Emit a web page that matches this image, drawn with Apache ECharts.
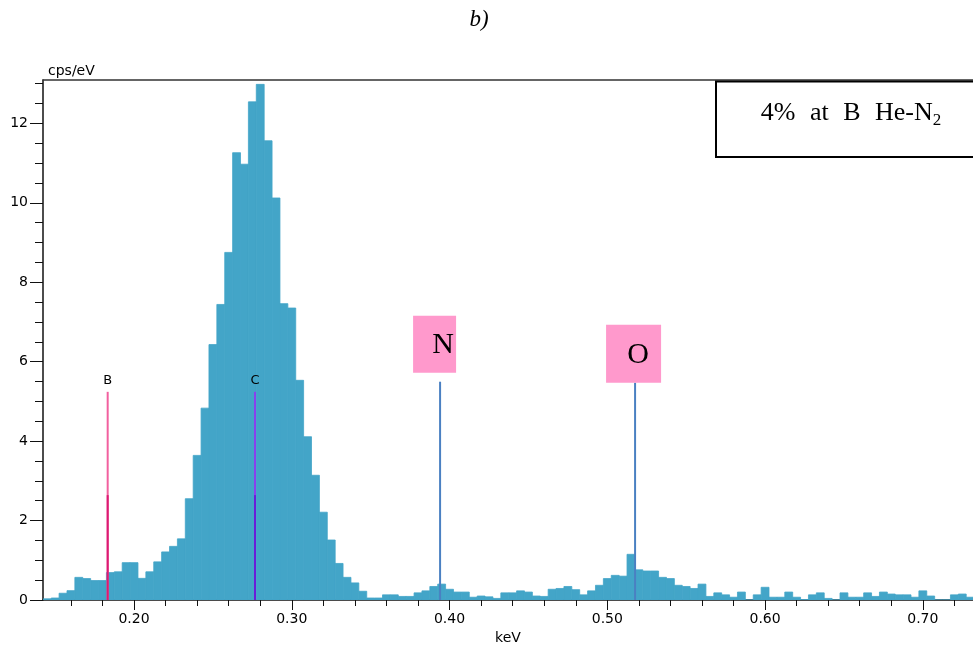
<!DOCTYPE html>
<html><head><meta charset="utf-8">
<script src="https://cdn.jsdelivr.net/npm/echarts@6/dist/echarts.min.js"></script>
<style>html,body{margin:0;padding:0;background:#fff}#c{width:973px;height:650px}</style>
</head><body><div id="c"></div>
<script>
// Bin centres (keV) and spectrum values (cps/eV)
const energies = [
0.145,0.150,0.155,0.160,0.165,0.170,0.175,0.180,0.185,0.190,
0.195,0.200,0.205,0.210,0.215,0.220,0.225,0.230,0.235,0.240,
0.245,0.250,0.255,0.260,0.265,0.270,0.275,0.280,0.285,0.290,
0.295,0.300,0.305,0.310,0.315,0.320,0.325,0.330,0.335,0.340,
0.345,0.350,0.355,0.360,0.365,0.370,0.375,0.380,0.385,0.390,
0.395,0.400,0.405,0.410,0.415,0.420,0.425,0.430,0.435,0.440,
0.445,0.450,0.455,0.460,0.465,0.470,0.475,0.480,0.485,0.490,
0.495,0.500,0.505,0.510,0.515,0.520,0.525,0.530,0.535,0.540,
0.545,0.550,0.555,0.560,0.565,0.570,0.575,0.580,0.585,0.590,
0.595,0.600,0.605,0.610,0.615,0.620,0.625,0.630,0.635,0.640,
0.645,0.650,0.655,0.660,0.665,0.670,0.675,0.680,0.685,0.690,
0.695,0.700,0.705,0.710,0.715,0.720,0.725,0.730];
const counts = [
0.03,0.05,0.17,0.235,0.57,0.54,0.49,0.49,0.69,0.71,
0.94,0.94,0.545,0.71,0.96,1.21,1.35,1.54,2.55,3.64,
4.83,6.43,7.44,8.75,11.26,10.97,12.54,12.98,11.56,10.12,
7.46,7.35,5.53,4.11,3.14,2.21,1.51,0.92,0.57,0.43,
0.22,0.05,0.05,0.13,0.13,0.09,0.09,0.18,0.23,0.34,
0.40,0.27,0.20,0.20,0.07,0.10,0.08,0.04,0.18,0.18,
0.23,0.20,0.10,0.09,0.27,0.29,0.34,0.26,0.13,0.23,
0.37,0.54,0.62,0.60,1.15,0.76,0.73,0.73,0.57,0.54,
0.37,0.34,0.29,0.40,0.09,0.18,0.13,0.07,0.20,0.00,
0.13,0.32,0.07,0.07,0.20,0.07,0.01,0.13,0.18,0.04,
0.00,0.18,0.07,0.07,0.18,0.09,0.20,0.15,0.13,0.13,
0.07,0.23,0.10,0.00,0.00,0.13,0.15,0.07];

// Element marker lines
const elementNames = ['B','C','N','O'];
const elementEnergies = [0.1833,0.2767,0.3940,0.5176];
const elementHeights = [5.24,5.24,5.495,5.47];

// Axis ticks / labels
const xMajorTicks = [0.20,0.30,0.40,0.50,0.60,0.70];
const xMinorTicks = [0.16,0.18,0.22,0.24,0.26,0.28,0.32,0.34,0.36,0.38,0.42,0.44,0.46,0.48,0.52,0.54,0.56,0.58,0.62,0.64,0.66,0.68,0.72];
const yMajorTicks = [0,2,4,6,8,10,12];
const yMinorTicks = [0.5,1,1.5,2.5,3,3.5,4.5,5,5.5,6.5,7,7.5,8.5,9,9.5,10.5,11,11.5,12.5,13];

const xMin = 0.1423, xMax = 0.7318, yMin = 0, yMax = 13.09;
const binHalf = 0.0025;

const elementStyles = [
  {color:'#f2609f', dark:'#dc1a72', darkTo:2.64},
  {color:'#8a40ee', dark:'#6a1cd8', darkTo:2.64},
  {color:'#4a80c2', box:{x:-27,y:-66,w:43,h:57,tx:3,ty:-37}},
  {color:'#4a80c2', box:{x:-29,y:-58,w:55,h:58,tx:3,ty:-28}}
];

const chart = echarts.init(document.getElementById('c'));
const FONT = 'DejaVu Sans';
const BAR = '#43a5c8';
chart.setOption({
  animation:false,
  backgroundColor:'#ffffff',
  grid:{left:43,right:0,top:80,bottom:50,containLabel:false},
  xAxis:[
    {type:'value',min:xMin,max:xMax,position:'bottom',
     axisLine:{show:true,onZero:false,lineStyle:{color:'#111',width:1.5}},
     axisTick:{show:true,customValues:xMajorTicks,length:10,lineStyle:{color:'#111'}},
     axisLabel:{customValues:xMajorTicks,formatter:v=>v.toFixed(2),color:'#000',fontSize:14,fontFamily:FONT,margin:12},
     splitLine:{show:false},
     name:'keV',nameLocation:'middle',nameGap:31,nameTextStyle:{color:'#000',fontSize:14,fontFamily:FONT}},
    {type:'value',min:xMin,max:xMax,position:'bottom',
     axisLine:{show:false,onZero:false},
     axisTick:{show:true,customValues:xMinorTicks,length:6,lineStyle:{color:'#111'}},
     axisLabel:{show:false},splitLine:{show:false}},
    {type:'value',min:xMin,max:xMax,position:'top',
     axisLine:{show:true,onZero:false,lineStyle:{color:'#333',width:1.5}},
     axisTick:{show:false},axisLabel:{show:false},splitLine:{show:false}}
  ],
  yAxis:[
    {type:'value',min:yMin,max:yMax,position:'left',
     axisLine:{show:true,onZero:false,lineStyle:{color:'#111',width:1.5}},
     axisTick:{show:true,customValues:yMajorTicks,length:13,lineStyle:{color:'#111'}},
     axisLabel:{customValues:yMajorTicks,color:'#000',fontSize:14,fontFamily:FONT,margin:15},
     splitLine:{show:false}},
    {type:'value',min:yMin,max:yMax,position:'left',
     axisLine:{show:false,onZero:false},
     axisTick:{show:true,customValues:yMinorTicks,length:8,lineStyle:{color:'#111'}},
     axisLabel:{show:false},splitLine:{show:false}}
  ],
  series:[
    {type:'custom',xAxisIndex:0,yAxisIndex:0,clip:true,
     data:energies.map((e,i)=>[e,counts[i]]),
     renderItem:function(params,api){
       const x=api.value(0), y=api.value(1);
       const p1=api.coord([x-binHalf,y]);
       const p2=api.coord([x+binHalf,0]);
       return {type:'rect',shape:{x:p1[0],y:p1[1],width:p2[0]-p1[0],height:p2[1]-p1[1]},
               style:{fill:BAR,stroke:BAR,lineWidth:0.8}};
     }},
    {type:'custom',xAxisIndex:0,yAxisIndex:0,clip:false,z:5,
     data:elementEnergies.map((e,i)=>[e,elementHeights[i]]),
     renderItem:function(params,api){
       const i=params.dataIndex, st=elementStyles[i];
       const x=api.value(0), h=api.value(1);
       const top=api.coord([x,h]), bot=api.coord([x,0]);
       const ch=[{type:'line',shape:{x1:top[0],y1:top[1],x2:bot[0],y2:bot[1]},style:{stroke:st.color,lineWidth:2}}];
       if(st.dark){
         const mid=api.coord([x,st.darkTo]);
         ch.push({type:'line',shape:{x1:mid[0],y1:mid[1],x2:bot[0],y2:bot[1]},style:{stroke:st.dark,lineWidth:2}});
         ch.push({type:'text',style:{text:elementNames[i],x:top[0],y:top[1]-11,fill:'#000',fontSize:13,fontFamily:FONT,align:'center',verticalAlign:'middle'}});
       }
       if(st.box){
         const b=st.box;
         ch.push({type:'rect',shape:{x:top[0]+b.x,y:top[1]+b.y,width:b.w,height:b.h},style:{fill:'#ff99cc'}});
         ch.push({type:'text',style:{text:elementNames[i],x:top[0]+b.tx,y:top[1]+b.ty,fill:'#000',fontSize:30,fontFamily:'Liberation Serif',align:'center',verticalAlign:'middle'}});
       }
       return {type:'group',children:ch};
     }}
  ],
  graphic:[
    {type:'text',left:48,top:64,style:{text:'cps/eV',fill:'#000',fontSize:14,fontFamily:FONT}},
    {type:'text',x:479,y:20,style:{text:'b)',fill:'#000',fontSize:23,fontStyle:'italic',fontFamily:'Liberation Serif',align:'center',verticalAlign:'middle'}},
    {type:'rect',shape:{x:716,y:81.5,width:270,height:75.5},style:{fill:'#fff',stroke:'#000',lineWidth:2},z:10},
    {type:'text',x:849,y:113,z:11,style:{text:'{n|4%} {n|at} {n|B} {m|He-N}{s|2}',fill:'#000',fontSize:26,fontFamily:'Liberation Serif',align:'center',verticalAlign:'middle',
      rich:{n:{fontSize:26,fontFamily:'Liberation Serif',padding:[0,4,0,4]},
            m:{fontSize:26,fontFamily:'Liberation Serif',padding:[0,0,0,4]},
            s:{fontSize:17,fontFamily:'Liberation Serif',padding:[15,0,0,0]}}}}
  ]
});
</script></body></html>
